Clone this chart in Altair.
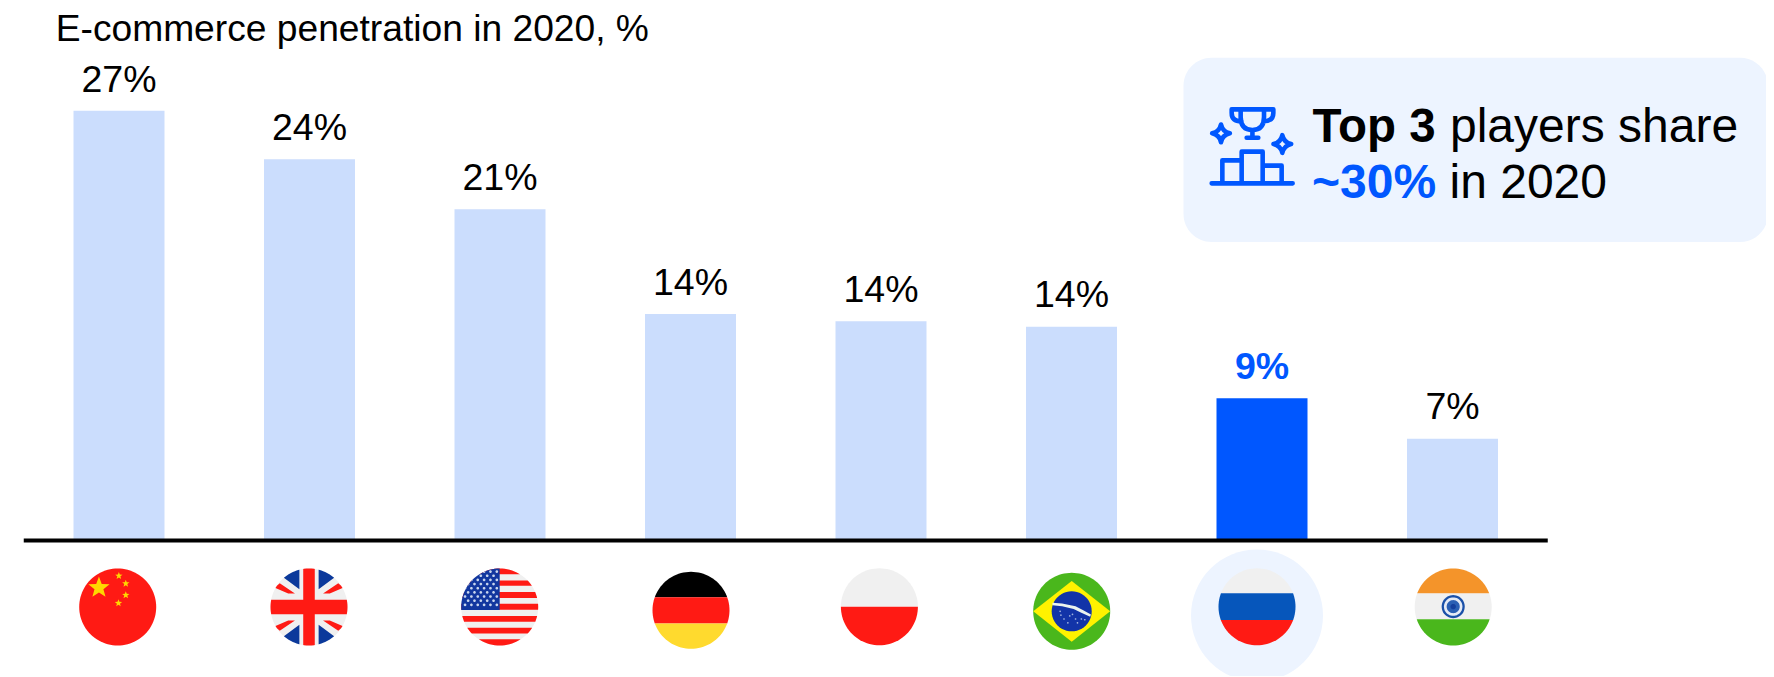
import math
import altair as alt
import pandas as pd

countries = ["China", "UK", "USA", "Germany", "Poland", "Brazil", "Russia", "India"]
penetration = [27.0, 23.95, 20.8, 14.2, 13.75, 13.4, 8.9, 6.35]
labels = ["27%", "24%", "21%", "14%", "14%", "14%", "9%", "7%"]
highlight = "Russia"

FONT = "Liberation Sans"
LIGHT, STRONG = "#CBDDFD", "#0057FF"
RED, WHITE, GREEN = "#FF1A14", "#F0F0F0", "#4AB71C"
PAD_L, PAD_T = 15.75, 0
W, H = 1524, 531.5


def px(x):
    return x - 8 - PAD_L


def py(y):
    return y - 8 - PAD_T


# ---- flag glyphs: polygons clipped to the unit disc, as SVG path shapes ----
CLIP = [(math.cos(2 * math.pi * i / 96), math.sin(2 * math.pi * i / 96)) for i in range(96)]


def clip(poly):
    out = poly
    for i in range(len(CLIP)):
        a, b = CLIP[i], CLIP[(i + 1) % len(CLIP)]
        inside = lambda p: (b[0] - a[0]) * (p[1] - a[1]) - (b[1] - a[1]) * (p[0] - a[0]) >= 0
        res = []
        for j in range(len(out)):
            p, q = out[j], out[(j + 1) % len(out)]
            ip, iq = inside(p), inside(q)
            if ip:
                res.append(p)
            if ip != iq:
                dx, dy = q[0] - p[0], q[1] - p[1]
                ex, ey = b[0] - a[0], b[1] - a[1]
                t = (ex * (a[1] - p[1]) - ey * (a[0] - p[0])) / (ex * dy - ey * dx)
                res.append((p[0] + t * dx, p[1] + t * dy))
        out = res
        if not out:
            break
    return out


def path(*polys):
    s = ""
    for poly in polys:
        c = clip(poly)
        if c:
            s += "M" + "L".join(f"{x:.4f},{y:.4f}" for x, y in c) + "Z"
    return s


def rect(x0, y0, x1, y1):
    return [(x0, y0), (x1, y0), (x1, y1), (x0, y1)]


def disc(cx=0.0, cy=0.0, r=1.0, rx=None):
    rx = r if rx is None else rx
    return [(cx + rx * math.cos(2 * math.pi * i / 48), cy + r * math.sin(2 * math.pi * i / 48)) for i in range(48)]


def star(cx, cy, r):
    pts = []
    for i in range(10):
        a = -math.pi / 2 + i * math.pi / 5
        rr = r if i % 2 == 0 else r * 0.42
        pts.append((cx + rr * math.cos(a), cy + rr * math.sin(a)))
    return pts


def mirror(poly, sx, sy):
    return [(x * sx, y * sy) for x, y in poly]


blue_tri = [(-0.25, -1.0), (-0.25, -0.46), (-0.67, -0.77)]
red_diag = [(-0.76, -0.62), (-0.365, -0.35), (-0.54, -0.35), (-0.89, -0.5)]
quad = [(1, 1), (-1, 1), (1, -1), (-1, -1)]

us_red = [(-1.0, -0.85), (-0.69, -0.55), (-0.39, -0.235), (-0.087, 0.07), (0.235, 0.38), (0.54, 0.69), (0.84, 1.0)]
us_stars = []
for row in range(9):
    for col in range(6):
        x = -0.9 + col * 0.165 + (0.08 if row % 2 else 0)
        y = -0.92 + row * 0.108
        if x < -0.02:
            us_stars.append(disc(x, y, 0.035))

brazil_dots = [(-0.28, 0.1), (-0.2, 0.2), (-0.05, 0.12), (0.02, 0.08), (0.1, 0.2), (0.25, 0.2), (0.34, 0.22), (-0.1, 0.3), (0.15, 0.3), (-0.3, 0.0)]

flag_parts = {
    "China": [
        (RED, path(rect(-1, -1, 1, 1))),
        ("#FFD800", path(star(-0.487, -0.5, 0.29), star(0.03, -0.81, 0.1), star(0.21, -0.61, 0.1), star(0.21, -0.31, 0.1), star(0.02, -0.1, 0.1))),
    ],
    "UK": [
        (WHITE, path(rect(-1, -1, 1, 1))),
        ("#0B399B", path(*[mirror(blue_tri, sx, sy) for sx, sy in quad])),
        (RED, path(*[mirror(red_diag, sx, sy) for sx, sy in quad])),
        (RED, path(rect(-0.15, -1, 0.15, 1), rect(-1, -0.19, 1, 0.19))),
    ],
    "USA": [
        (WHITE, path(rect(-1, -1, 1, 1))),
        (RED, path(*[rect(-1, a, 1, b) for a, b in us_red])),
        ("#12379F", path(rect(-1, -1, 0, 0.08))),
        ("#C9D6EE", path(*us_stars)),
    ],
    "Germany": [
        ("#000000", path(rect(-1, -1, 1, -0.34))),
        (RED, path(rect(-1, -0.34, 1, 0.34))),
        ("#FFDA2E", path(rect(-1, 0.34, 1, 1))),
    ],
    "Poland": [
        (WHITE, path(rect(-1, -1, 1, 0))),
        (RED, path(rect(-1, 0, 1, 1))),
    ],
    "Brazil": [
        (GREEN, path(rect(-1, -1, 1, 1))),
        ("#FFF200", path([(0, -0.79), (1, 0), (0, 0.79), (-1, 0)])),
        ("#1234A8", path(disc(0, 0, 0.52))),
        ("#EAF3EE", path([(-0.5, -0.22), (-0.25, -0.2), (0.1, -0.13), (0.3, -0.03), (0.5, 0.08), (0.48, 0.14), (0.25, 0.04), (0.05, -0.06), (-0.25, -0.13), (-0.5, -0.16)])),
        ("#9FB2DE", path(*[disc(x, y, 0.022) for x, y in brazil_dots])),
    ],
    "Russia": [
        (WHITE, path(rect(-1, -1, 1, -0.35))),
        ("#0656BB", path(rect(-1, -0.35, 1, 0.34))),
        (RED, path(rect(-1, 0.34, 1, 1))),
    ],
    "India": [
        ("#F4942A", path(rect(-1, -1, 1, -0.35))),
        (WHITE, path(rect(-1, -0.35, 1, 0.32))),
        (GREEN, path(rect(-1, 0.32, 1, 1))),
        ("#1A50A8", path(disc(0, -0.01, 0.3))),
        ("#E4EAF5", path(disc(0, -0.01, 0.24))),
        ("#2A5FB4", path(disc(0, -0.01, 0.17))),
        ("#143F9C", path(disc(0, -0.01, 0.07))),
    ],
}
# flag centres in page pixels
flag_centres = {
    "China": (117.7, 607.0), "UK": (309.0, 607.0), "USA": (499.7, 607.0), "Germany": (691.0, 610.3),
    "Poland": (879.4, 606.8), "Brazil": (1071.7, 611.3), "Russia": (1257.0, 606.8), "India": (1453.2, 607.0),
}
FLAG_D = 77

x_scale = alt.Scale(domain=countries, paddingInner=0.522, paddingOuter=0.261)
X = alt.X("country:N", scale=x_scale, axis=None, sort=None)
Y = alt.Y("value:Q", scale=alt.Scale(domain=[0, 33.48]), axis=None)


def band_centre(c):
    return 119.0 + 190.5 * countries.index(c)


bars_df = pd.DataFrame({
    "country": countries,
    "value": penetration,
    "label": labels,
    "fill": [STRONG if c == highlight else LIGHT for c in countries],
})

bars = alt.Chart(bars_df).mark_bar(size=91, cornerRadius=0).encode(
    x=X, y=Y, color=alt.Color("fill:N", scale=None)
)
plain_labels = alt.Chart(bars_df[bars_df.country != highlight]).mark_text(
    font=FONT, fontSize=37.5, baseline="alphabetic", align="center", dy=-19.3, color="#000000"
).encode(x=X, y=Y, text="label:N")
strong_labels = alt.Chart(bars_df[bars_df.country == highlight]).mark_text(
    font=FONT, fontSize=37.5, fontWeight="bold", baseline="alphabetic", align="center", dy=-19.3, color=STRONG
).encode(x=X, y=Y, text="label:N")
baseline = alt.Chart(pd.DataFrame({"v": [0]})).mark_rule(color="#000000", strokeWidth=4).encode(
    x=alt.value(0), x2=alt.value(W), y=alt.value(py(540.5))
)

layers = [bars, plain_labels, strong_labels, baseline]

# highlight halo under the Russian flag
cx, cy = flag_centres[highlight]
layers.append(
    alt.Chart(pd.DataFrame({"country": [highlight]}))
    .mark_point(filled=True, shape="circle", opacity=1, color="#EDF4FF", size=132 * 132, strokeWidth=0,
                xOffset=cx - band_centre(highlight))
    .encode(x=X, y=alt.value(py(615.5)))
)

for c in countries:
    cx, cy = flag_centres[c]
    df = pd.DataFrame([{"country": c, "fill": f, "glyph": g} for f, g in flag_parts[c]])
    layers.append(
        alt.Chart(df)
        .mark_point(filled=True, opacity=1, strokeWidth=0, size=FLAG_D * FLAG_D,
                    xOffset=cx - band_centre(c))
        .encode(x=X, y=alt.value(py(cy)), shape=alt.Shape("glyph:N", scale=None),
                color=alt.Color("fill:N", scale=None))
    )


def text_layer(txt, x, y, size, color="#000000", weight="normal"):
    return (
        alt.Chart(pd.DataFrame({"t": [txt]}))
        .mark_text(font=FONT, fontSize=size, fontWeight=weight, color=color, align="left", baseline="alphabetic")
        .encode(x=alt.value(px(x)), y=alt.value(py(y)), text="t:N")
    )


layers.append(text_layer("E-commerce penetration in 2020, %", 55.7, 41, 37.2))

# call-out card
layers.append(
    alt.Chart(pd.DataFrame({"v": [0]})).mark_rect(color="#EDF4FF", cornerRadius=28).encode(
        x=alt.value(px(1183.5)), x2=alt.value(px(1768)), y=alt.value(py(57.7)), y2=alt.value(py(242))
    )
)
layers.append(text_layer("Top 3", 1312.5, 141.7, 47.5, weight="bold"))
layers.append(text_layer("players share", 1450, 141.7, 48))
layers.append(text_layer("~30%", 1312, 198.3, 48, color=STRONG, weight="bold"))
layers.append(text_layer("in 2020", 1449.5, 198.3, 48))


# call-out icon: stroked custom shapes
def sparkle(cx, cy, r):
    k = r * 0.18
    return (f"M{cx},{cy - r}Q{cx + k},{cy - k} {cx + r},{cy}Q{cx + k},{cy + k} {cx},{cy + r}"
            f"Q{cx - k},{cy + k} {cx - r},{cy}Q{cx - k},{cy - k} {cx},{cy - r}Z")


icon = (
    "M-0.96,0.877H0.968"
    "M-0.706,0.877V0.33H-0.246M-0.246,0.877V0.123H0.254V0.877M0.254,0.456H0.706V0.877"
    "M-0.484,-0.885H0.508"
    "M-0.27,-0.885V-0.7Q-0.27,-0.39 0.01,-0.39Q0.286,-0.39 0.286,-0.7V-0.885"
    "M-0.484,-0.885V-0.8Q-0.484,-0.6 -0.25,-0.6M0.508,-0.885V-0.8Q0.508,-0.6 0.27,-0.6"
    "M0.01,-0.39V-0.21M-0.127,-0.21H0.15"
    + sparkle(-0.738, -0.313, 0.21) + sparkle(0.722, -0.06, 0.21)
)
layers.append(
    alt.Chart(pd.DataFrame({"glyph": [icon]}))
    .mark_point(filled=False, opacity=1, color=STRONG, strokeWidth=4.6, size=84 * 84,
                strokeCap="round", strokeJoin="round")
    .encode(x=alt.value(px(1252)), y=alt.value(py(146.5)), shape=alt.Shape("glyph:N", scale=None))
)

chart = (
    alt.layer(*layers)
    .properties(
        width=W, height=H,
        autosize=alt.AutoSizeParams(type="none"),
        padding={"left": PAD_L, "top": PAD_T, "right": 218.25, "bottom": 136.5},
        background="#FFFFFF",
    )
    .configure_view(stroke=None)
)
chart.save("out.html", embed_options={"renderer": "svg", "actions": False})
